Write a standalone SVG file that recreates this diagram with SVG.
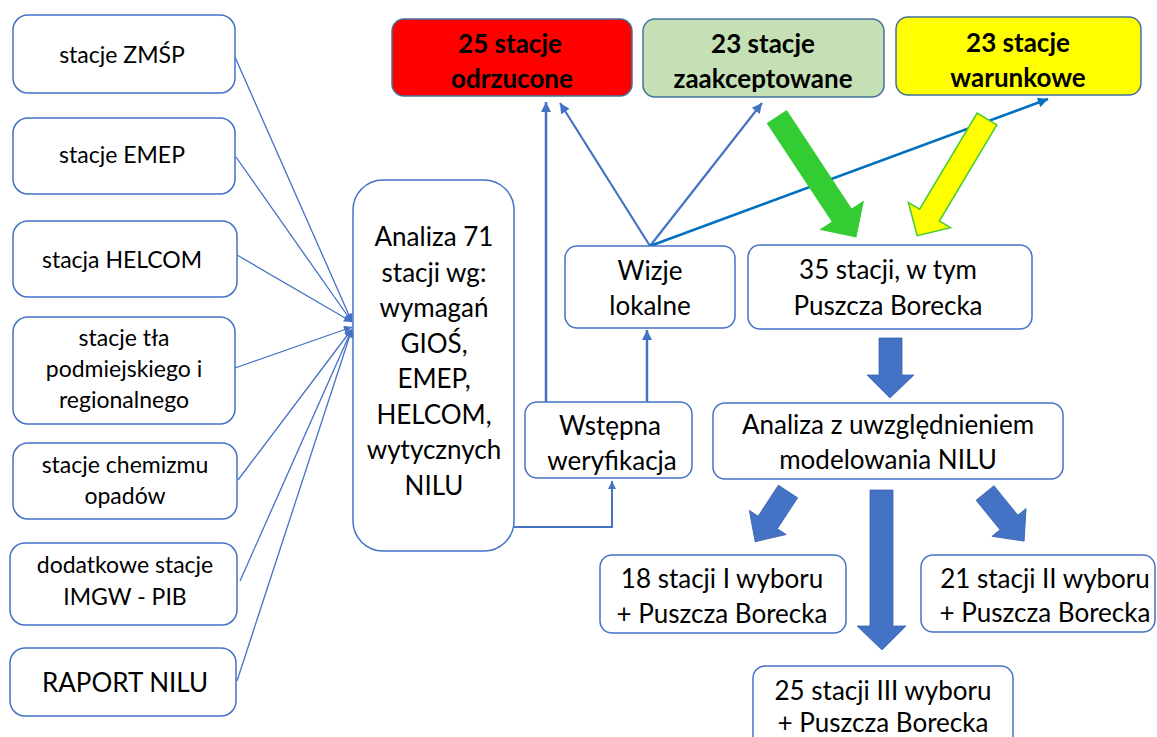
<svg xmlns="http://www.w3.org/2000/svg" width="1157" height="737" viewBox="0 0 1157 737">
<style>
.box{fill:#fff;stroke:#4472c4;stroke-width:1.5}
.t{font-family:Lato,"Noto Sans",sans-serif;fill:#000;text-anchor:middle}
.s23{font-size:23px}
.s26{font-size:26px}
.b{font-family:Lato,"Noto Sans",sans-serif;font-weight:bold;font-size:26px;fill:#000;text-anchor:middle}
.thin{fill:none;stroke:#4472c4;stroke-width:1.3}
.thick{fill:none;stroke:#4472c4;stroke-width:2.5}
.blk{fill:#4472c4;stroke:#3a64b0;stroke-width:0.8}
</style>
<defs>
<marker id="ahs" viewBox="0 0 10 10" refX="10" refY="5" markerWidth="10" markerHeight="8" orient="auto" markerUnits="userSpaceOnUse"><path d="M0,0 L10,5 L0,10 z" fill="#4472c4"/></marker>
<marker id="ahl" viewBox="0 0 10 10" refX="10" refY="5" markerWidth="12" markerHeight="10" orient="auto" markerUnits="userSpaceOnUse"><path d="M0,0 L10,5 L0,10 z" fill="#4472c4"/></marker>
<marker id="ahb" viewBox="0 0 10 10" refX="10" refY="5" markerWidth="12" markerHeight="10" orient="auto" markerUnits="userSpaceOnUse"><path d="M0,0 L10,5 L0,10 z" fill="#0070c0"/></marker>
</defs>

<g id="connectors">
<line class="thin" x1="235" y1="57" x2="352" y2="322" marker-end="url(#ahs)"/>
<line class="thin" x1="236" y1="157" x2="352" y2="322" marker-end="url(#ahs)"/>
<line class="thin" x1="237" y1="255" x2="352" y2="322" marker-end="url(#ahs)"/>
<line class="thin" x1="235" y1="368" x2="352" y2="327" marker-end="url(#ahs)"/>
<line class="thin" x1="238" y1="480" x2="352" y2="329" marker-end="url(#ahs)"/>
<line class="thin" x1="240" y1="581" x2="352" y2="329" marker-end="url(#ahs)"/>
<line class="thin" x1="237" y1="681" x2="352" y2="329" marker-end="url(#ahs)"/>
<polyline class="thin" style="stroke-width:2" points="514,527 612,527 612,481" marker-end="url(#ahs)"/>
<line class="thick" x1="647" y1="402" x2="647" y2="330" marker-end="url(#ahl)"/>
<line class="thick" x1="546" y1="402" x2="546" y2="102" marker-end="url(#ahl)"/>
<line class="thin" style="stroke-width:2.2" x1="650" y1="246" x2="560" y2="103" marker-end="url(#ahl)"/>
<line class="thin" style="stroke-width:2.2" x1="650" y1="246" x2="762" y2="103" marker-end="url(#ahl)"/>
<line style="fill:none;stroke:#0070c0;stroke-width:2.5" x1="650" y1="246" x2="1048" y2="99" marker-end="url(#ahb)"/>
</g>

<g id="n-zmsp"><rect class="box" x="13" y="15" width="222" height="78" rx="15"/><text class="t s23" x="122" y="63">stacje ZMŚP</text></g>
<g id="n-emep"><rect class="box" x="13" y="118" width="222" height="76" rx="15"/><text class="t s23" x="122" y="163">stacje EMEP</text></g>
<g id="n-helcom"><rect class="box" x="13" y="221" width="224" height="76" rx="15"/><text class="t s23" x="122" y="268">stacja HELCOM</text></g>
<g id="n-tla"><rect class="box" x="13" y="317" width="222" height="107" rx="15"/><text class="t s23" x="124" y="346">stacje tła</text><text class="t s23" x="124" y="377">podmiejskiego i</text><text class="t s23" x="124" y="408">regionalnego</text></g>
<g id="n-chem"><rect class="box" x="13" y="443" width="224" height="76" rx="15"/><text class="t s23" x="125" y="473">stacje chemizmu</text><text class="t s23" x="125" y="504">opadów</text></g>
<g id="n-imgw"><rect class="box" x="10" y="543" width="227" height="82" rx="15"/><text class="t s23" x="125" y="573">dodatkowe stacje</text><text class="t s23" x="125" y="605">IMGW - PIB</text></g>
<g id="n-raport"><rect class="box" x="10" y="648" width="226" height="68" rx="15"/><text class="t s26" x="125" y="692">RAPORT NILU</text></g>

<g id="n-analiza71"><rect class="box" x="353" y="180" width="161" height="371" rx="30"/>
<text class="t s26" x="434" y="246">Analiza 71</text>
<text class="t s26" x="434" y="282">stacji wg:</text>
<text class="t s26" x="434" y="317">wymagań</text>
<text class="t s26" x="434" y="353">GIOŚ,</text>
<text class="t s26" x="434" y="388">EMEP,</text>
<text class="t s26" x="434" y="424">HELCOM,</text>
<text class="t s26" x="434" y="459">wytycznych</text>
<text class="t s26" x="434" y="495">NILU</text></g>

<g id="n-odrzucone"><rect x="392" y="19" width="240" height="77" rx="12" fill="#ff0000" stroke="#41719c" stroke-width="1.5"/><text class="b" x="510" y="53">25 stacje</text><text class="b" x="512" y="88">odrzucone</text></g>
<g id="n-zaakceptowane"><rect x="643" y="19" width="241" height="78" rx="12" fill="#c5e0b4" stroke="#41719c" stroke-width="1.5"/><text class="b" x="763" y="53">23 stacje</text><text class="b" x="763" y="88">zaakceptowane</text></g>
<g id="n-warunkowe"><rect x="896" y="17" width="245" height="78" rx="12" fill="#ffff00" stroke="#41719c" stroke-width="1.5"/><text class="b" x="1018" y="52">23 stacje</text><text class="b" x="1018" y="87">warunkowe</text></g>

<g id="n-wizje"><rect class="box" x="565" y="246" width="170" height="82" rx="12"/><text class="t s26" x="650" y="280">Wizje</text><text class="t s26" x="650" y="315">lokalne</text></g>
<g id="n-35"><rect class="box" x="748" y="245" width="284" height="84" rx="12"/><text class="t s26" x="888" y="279">35 stacji, w tym</text><text class="t s26" x="888" y="315">Puszcza Borecka</text></g>
<g id="n-wstepna"><rect class="box" x="525" y="402" width="167" height="76" rx="12"/><text class="t s26" x="610" y="435">Wstępna</text><text class="t s26" x="612" y="470">weryfikacja</text></g>
<g id="n-analizaNILU"><rect class="box" x="713" y="403" width="350" height="76" rx="12"/><text class="t s26" x="888" y="434">Analiza z uwzględnieniem</text><text class="t s26" x="888" y="469">modelowania NILU</text></g>
<g id="n-18"><rect class="box" x="600" y="555" width="246" height="78" rx="12"/><text class="t s26" x="722" y="588">18 stacji I wyboru</text><text class="t s26" x="722" y="623">+ Puszcza Borecka</text></g>
<g id="n-21"><rect class="box" x="921" y="555" width="234" height="77" rx="12"/><text class="t s26" x="1045" y="588">21 stacji II wyboru</text><text class="t s26" x="1045" y="622">+ Puszcza Borecka</text></g>
<g id="n-25"><rect class="box" x="753" y="666" width="260" height="90" rx="12"/><text class="t s26" x="883" y="700">25 stacji III wyboru</text><text class="t s26" x="883" y="732">+ Puszcza Borecka</text></g>

<g id="block-arrows">
<polygon class="blk" points="879,338 902,338 902,375 914,375 890,398 867,375 879,375"/>
<polygon class="blk" points="870,490 893,490 893,626 906,626 882,650 857,626 870,626"/>
<polygon class="blk" transform="translate(788,491.5) rotate(123.2)" points="0,-11.5 37,-11.5 37,-22 60,0 37,22 37,11.5 0,11.5"/>
<polygon class="blk" transform="translate(985,493) rotate(50.9)" points="0,-11.5 38,-11.5 38,-22 62,0 38,22 38,11.5 0,11.5"/>
<polygon fill="#33cc33" stroke="#33cc33" stroke-width="1" transform="translate(777,117) rotate(56.6)" points="0,-11.5 118,-11.5 118,-25.5 143.5,0 118,25.5 118,11.5 0,11.5"/>
<polygon fill="#ffff00" stroke="#44cc33" stroke-width="1.5" transform="translate(987,119) rotate(120.9)" points="0,-11.5 112,-11.5 112,-24.5 136,0 112,24.5 112,11.5 0,11.5"/>
</g>
</svg>
